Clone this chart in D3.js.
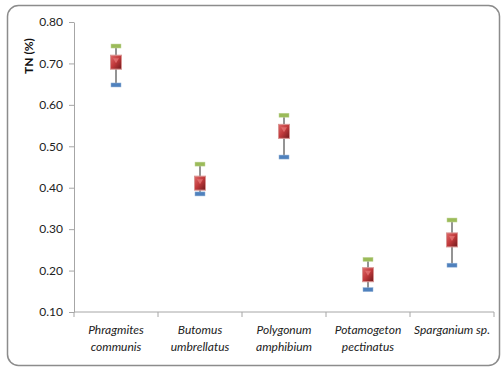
<!DOCTYPE html>
<html><head><meta charset="utf-8">
<script src="https://cdn.jsdelivr.net/npm/d3@7"></script>
<style>body{margin:0;background:#fff}svg{display:block}</style>
</head><body>
<script>
const categories = [["Phragmites","communis"],["Butomus","umbrellatus"],["Polygonum","amphibium"],["Potamogeton","pectinatus"],["Sparganium sp."]];
const highVals = [0.742, 0.457, 0.575, 0.227, 0.322];
const meanVals = [0.703, 0.411, 0.536, 0.190, 0.274];
const lowVals  = [0.648, 0.385, 0.474, 0.154, 0.213];
const yTicks = [0.10,0.20,0.30,0.40,0.50,0.60,0.70,0.80];

const W=502,H=368;
const svg=d3.select("body").append("svg").attr("width",W).attr("height",H);
const defs=svg.append("defs");
const g1=defs.append("linearGradient").attr("id","sq").attr("x1","0").attr("y1","0").attr("x2","1").attr("y2","1");
g1.append("stop").attr("offset","0").attr("stop-color","#e06a6a");
g1.append("stop").attr("offset","0.5").attr("stop-color","#c0393b");
g1.append("stop").attr("offset","1").attr("stop-color","#6e1a1c");

svg.append("rect").attr("x",7.5).attr("y",5.5).attr("width",492).attr("height",360).attr("rx",11)
  .attr("fill","#fff").attr("stroke","#8c8c8c").attr("stroke-width",1.5);

const pLeft=74,pRight=494,pTop=22,pBottom=312;
const x=d3.scaleBand().domain(d3.range(categories.length)).range([pLeft,pRight]);
const y=d3.scaleLinear().domain([0.1,0.8]).range([pBottom,pTop]);

const font="Lato, 'Open Sans', sans-serif";
const ya=svg.append("g").attr("transform",`translate(${pLeft},0)`)
  .call(d3.axisLeft(y).tickValues(yTicks).tickFormat(d3.format(".2f")).tickSize(5).tickSizeOuter(0));
ya.select(".domain").attr("stroke","#a6a6a6");
ya.selectAll(".tick line").attr("stroke","#a6a6a6");
ya.selectAll("text").attr("font-family",font).attr("font-size",12).attr("fill","#222").attr("dx",-3);

const xa=svg.append("g").attr("transform",`translate(0,${pBottom})`);
xa.append("line").attr("x1",pLeft).attr("x2",pRight).attr("stroke","#a6a6a6");
const bounds=d3.range(categories.length+1).map(i=> i<categories.length? x(i): x(categories.length-1)+x.bandwidth());
xa.selectAll("line.t").data(bounds).join("line").attr("class","t")
  .attr("x1",d=>d).attr("x2",d=>d).attr("y1",0).attr("y2",5).attr("stroke","#a6a6a6");
categories.forEach((c,i)=>{
  const t=xa.append("text").attr("x",x(i)+x.bandwidth()/2).attr("y",22).attr("text-anchor","middle")
   .attr("font-family",font).attr("font-style","italic").attr("font-size",12).attr("fill","#222");
  c.forEach((l,j)=>t.append("tspan").attr("x",x(i)+x.bandwidth()/2).attr("dy",j?17:0).text(l));
});

svg.append("text").attr("transform",`translate(33,${(22+80)/2+5}) rotate(-90)`).attr("text-anchor","middle")
  .attr("font-family",font).attr("font-weight","bold").attr("font-size",12).attr("fill","#111").text("TN (%)");

const cx=i=>x(i)+x.bandwidth()/2;
const pts=svg.append("g");
categories.forEach((c,i)=>{
  pts.append("line").attr("x1",cx(i)).attr("x2",cx(i)).attr("y1",y(highVals[i])).attr("y2",y(lowVals[i]))
    .attr("stroke","#707070").attr("stroke-width",1.5);
  pts.append("rect").attr("x",cx(i)-5).attr("y",y(highVals[i])-2).attr("width",10).attr("height",4).attr("fill","#9bbb59").attr("stroke","#c3d69b").attr("stroke-width",0.5);
  pts.append("rect").attr("x",cx(i)-5).attr("y",y(lowVals[i])-2).attr("width",10).attr("height",4).attr("fill","#4f81bd").attr("stroke","#95b3d7").attr("stroke-width",0.5);
  pts.append("rect").attr("x",cx(i)-5.5).attr("y",y(meanVals[i])-7).attr("width",11).attr("height",14).attr("fill","url(#sq)").attr("stroke","#d99694").attr("stroke-width",1);
  pts.append("path").attr("d",`M${cx(i)-3},${y(meanVals[i])-4}L${cx(i)+3},${y(meanVals[i])-4}L${cx(i)},${y(meanVals[i])+1}Z`).attr("fill","#e87a7a").attr("opacity",0.7);
});
</script>
</body></html>
